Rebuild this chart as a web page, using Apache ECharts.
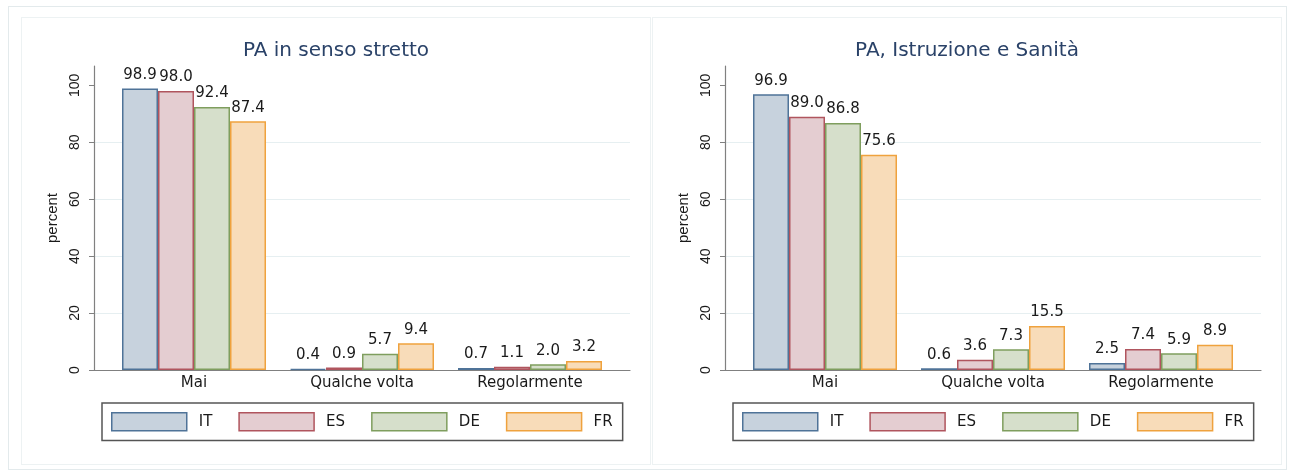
<!DOCTYPE html>
<html>
<head>
<meta charset="utf-8">
<script src="https://cdn.jsdelivr.net/npm/echarts@6/dist/echarts.min.js"></script>
<style>
  body { margin: 0; background: #fff; }
  #frame { position: absolute; left: 8px; top: 6px; width: 1279px; height: 464px; border: 1px solid #e3eaec; box-sizing: border-box; }
  .panel { position: absolute; top: 17px; width: 630px; height: 448px; border: 1px solid #edf2f3; box-sizing: border-box; }
</style>
</head>
<body>
<div id="frame"></div>
<div id="left" class="panel" style="left:21px"></div>
<div id="right" class="panel" style="left:652px"></div>

<script>
// categories and countries
var categories = ['Mai', 'Qualche volta', 'Regolarmente']
var countries = ['IT', 'ES', 'DE', 'FR']
var yTicks = [0, 20, 40, 60, 80, 100]

// PA in senso stretto
var strettoIT = [98.9, 0.4, 0.7]
var strettoES = [98.0, 0.9, 1.1]
var strettoDE = [92.4, 5.7, 2.0]
var strettoFR = [87.4, 9.4, 3.2]

// PA, Istruzione e Sanità
var sanitaIT = [96.9, 0.6, 2.5]
var sanitaES = [89.0, 3.6, 7.4]
var sanitaDE = [86.8, 7.3, 5.9]
var sanitaFR = [75.6, 15.5, 8.9]

var fills = ['#c7d2dd', '#e4cdd1', '#d6dfcb', '#f8dcb9']
var borders = ['#4f7398', '#b0555e', '#7f9e5e', '#efa23e']

var wideFont = 'DejaVu Sans'
var tallFont = 'Liberation Sans'
var yMax = 106.8

function buildOption(title, seriesData) {
  var series = countries.map(function (name, i) {
    return {
      name: name,
      type: 'bar',
      xAxisIndex: 1,
      yAxisIndex: 1,
      barWidth: 36,
      barGap: 0,
      data: seriesData[i],
      itemStyle: { color: fills[i], borderColor: borders[i], borderWidth: 1.5 },
      label: {
        show: true,
        position: 'top',
        distance: 6,
        color: '#1a1a1a',
        fontFamily: wideFont,
        fontSize: 15,
        formatter: function (p) { return p.value.toFixed(1) }
      },
      animation: false
    }
  })
  return {
    animation: false,
    title: {
      text: title,
      left: 'center',
      top: 18,
      textStyle: { fontFamily: wideFont, fontSize: 20, fontWeight: 'normal', color: '#2a4268' }
    },
    grid: [
      { left: 72, top: 48, width: 536, height: 304 },
      { left: 88, top: 48, width: 504, height: 304 }
    ],
    xAxis: [
      {
        gridIndex: 0, type: 'value', min: 0, max: 1,
        axisLine: { show: true, lineStyle: { color: '#808080', width: 1.2 } },
        axisTick: { show: false }, axisLabel: { show: false }, splitLine: { show: false }
      },
      {
        gridIndex: 1, type: 'category', data: categories,
        axisLine: { show: false }, axisTick: { show: false },
        axisLabel: { margin: 6, color: '#1a1a1a', fontFamily: wideFont, fontSize: 15 }
      }
    ],
    yAxis: [
      {
        gridIndex: 0, type: 'value', min: 0, max: yMax,
        name: 'percent', nameLocation: 'middle', nameRotate: 90, nameGap: 31,
        nameTextStyle: { fontFamily: tallFont, fontSize: 15, color: '#1a1a1a' },
        axisLine: { show: true, lineStyle: { color: '#808080', width: 1.2 } },
        axisTick: { show: true, length: 5, customValues: yTicks, lineStyle: { color: '#808080' } },
        axisLabel: { rotate: 90, margin: 12, customValues: yTicks, fontFamily: tallFont, fontSize: 14, color: '#1a1a1a' },
        splitLine: { show: true, showMinLine: false, showMaxLine: false, lineStyle: { color: '#e6eff1', width: 1.2 } }
      },
      {
        gridIndex: 1, type: 'value', min: 0, max: yMax, show: false
      }
    ],
    legend: {
      left: 80,
      top: 385,
      padding: [9, 10, 9, 9],
      itemWidth: 75,
      itemHeight: 18,
      itemGap: 26,
      icon: 'rect',
      borderColor: '#555',
      borderWidth: 1.5,
      data: countries,
      itemStyle: { borderWidth: 1.5 },
      textStyle: { fontFamily: wideFont, fontSize: 15, color: '#1a1a1a', padding: [0, 0, 0, 7] }
    },
    series: series
  }
}

var leftChart = echarts.init(document.getElementById('left'))
leftChart.setOption(buildOption('PA in senso stretto', [strettoIT, strettoES, strettoDE, strettoFR]))

var rightChart = echarts.init(document.getElementById('right'))
rightChart.setOption(buildOption('PA, Istruzione e Sanità', [sanitaIT, sanitaES, sanitaDE, sanitaFR]))
</script>
</body>
</html>
